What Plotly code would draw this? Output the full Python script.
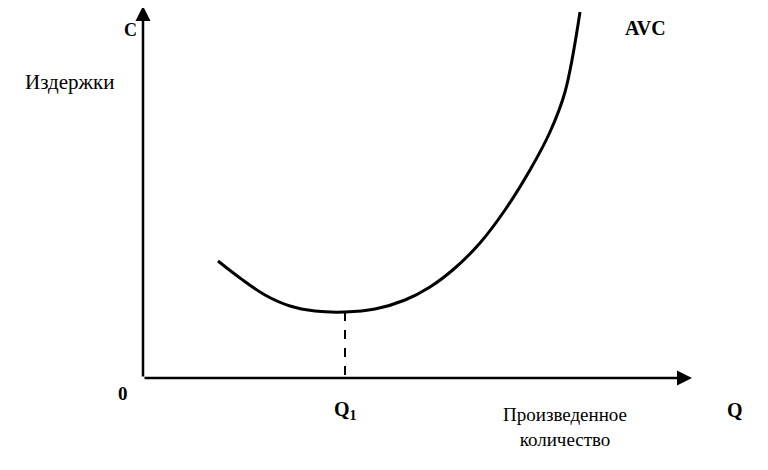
import plotly.graph_objects as go

W, H = 768, 470

# AVC curve (x px, y px from top)
avc_x = [218, 240, 265, 290, 315, 345, 375, 405, 430, 455, 480, 505, 530, 550, 565, 580]
avc_y = [261, 278, 295, 306, 311, 312, 309, 300, 287, 268, 243, 210, 170, 132, 92, 12]

q1_x = 345
q1_y = 312
origin = (143, 378)

SERIF = "Liberation Serif, Times New Roman, serif"

fig = go.Figure()
fig.add_trace(go.Scatter(
    x=avc_x, y=[H - v for v in avc_y], mode="lines",
    line=dict(color="black", width=3, shape="spline"), hoverinfo="skip",
))
fig.add_trace(go.Scatter(
    x=[q1_x, q1_x], y=[H - q1_y, H - origin[1]], mode="lines",
    line=dict(color="black", width=2, dash="dash"), hoverinfo="skip",
))

# axes with arrows
for tx, ty in [(143, 6), (692, 378)]:
    fig.add_annotation(x=tx, y=H - ty, ax=origin[0], ay=H - origin[1],
                       xref="x", yref="y", axref="x", ayref="y", text="",
                       showarrow=True, arrowhead=2, arrowsize=1.2, arrowwidth=2.5, arrowcolor="black")

labels = [
    ("C", 130, 30, 18, True),
    ("Издержки", 70, 82, 21, False),
    ("AVC", 645, 28, 20, True),
    ("0", 123, 393, 19, True),
    ("Q<sub>1</sub>", 345, 410, 20, True),
    ("Q", 735, 410, 20, True),
    ("Произведенное<br>количество", 565, 427, 19, False),
]
for txt, x, y, size, bold in labels:
    fig.add_annotation(x=x, y=H - y, xref="x", yref="y", showarrow=False,
                       text=f"<b>{txt}</b>" if bold else txt,
                       font=dict(family=SERIF, size=size, color="black"))

# ranges offset by 8 px to compensate for the page's body margin
fig.update_layout(
    width=W, height=H, margin=dict(l=0, r=0, t=0, b=0),
    paper_bgcolor="white", plot_bgcolor="white", showlegend=False,
    xaxis=dict(range=[8, W + 8], visible=False, fixedrange=True),
    yaxis=dict(range=[-8, H - 8], visible=False, fixedrange=True),
)
fig.write_html("out.html", config={"displayModeBar": False})
